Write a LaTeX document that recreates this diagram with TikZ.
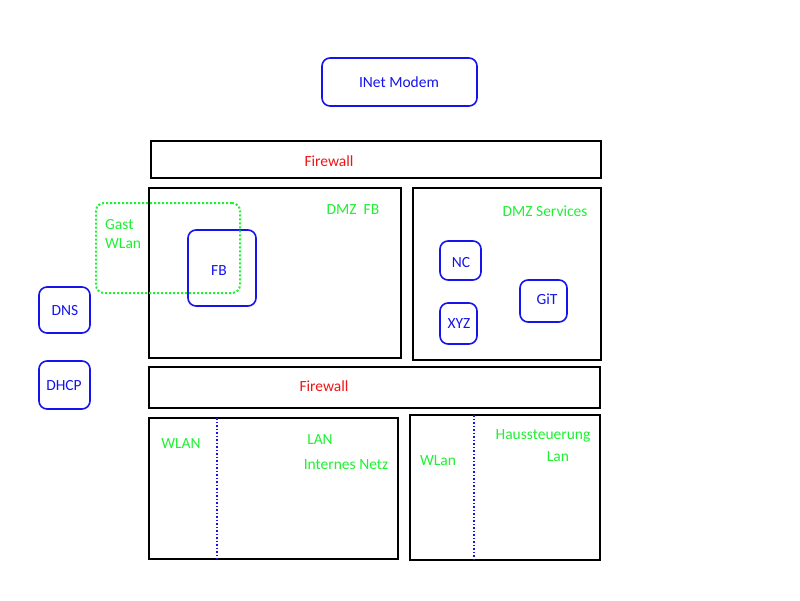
\documentclass[tikz,border=0pt]{standalone}
\usepackage{fontspec}
\setmainfont{Carlito}
\usepackage{xcolor}
\usetikzlibrary{positioning}
\definecolor{netblue}{RGB}{20,20,235}
\definecolor{netgreen}{RGB}{30,240,50}
\definecolor{netred}{RGB}{240,20,20}

\begin{document}
\begin{tikzpicture}[x=1pt, y=-1pt]
\tikzset{
  zone/.style={rectangle,draw=black,line width=1.6pt,inner sep=0pt,outer sep=0pt,anchor=north west},
  srvbox/.style={rectangle,rounded corners=8pt,draw=netblue,line width=1.6pt,inner sep=0pt,outer sep=0pt,anchor=north west},
  lab/.style={font=\fontsize{15.5}{18}\selectfont,inner sep=0pt,align=left},
  gr/.style={lab,text=netgreen},
  bl/.style={lab,text=netblue},
  rd/.style={lab,text=netred},
  wifi/.style={draw=netblue,line width=1.5pt,dotted}
}
\useasboundingbox (0,0) rectangle (800,600);
% ---- uplink
\node[srvbox,minimum width=155pt,minimum height=48pt] (modem) at (322,58) {};
\node[bl] (modemlab) at (399,82) {INet Modem};
\node[zone,minimum width=450pt,minimum height=37pt] (fwtop) at (151,141) {};
\node[rd] (fwtoplab) at (329,161) {Firewall};
% ---- dmz
\node[zone,minimum width=252pt,minimum height=170pt] (dmzfb) at (149,188) {};
\node[gr] (dmzfblab) at (353,210) {DMZ\ \ FB};
\node[srvbox,minimum width=68pt,minimum height=76pt] (fb) at (188,230) {};
\node[bl] (fblab) at (219,271) {FB};
\node[rectangle,rounded corners=8pt,draw=netgreen,line width=2pt,dotted,minimum width=144pt,minimum height=90pt,anchor=north west] (gast) at (95,202) {};
\node[gr,anchor=west] (gastlab) at (105,234) {Gast\\[1pt]WLan};
\node[zone,minimum width=188pt,minimum height=172pt] (dmzsrv) at (413,188) {};
\node[gr] (dmzsrvlab) at (545,211) {DMZ Services};
\node[srvbox,minimum width=41pt,minimum height=39pt] (nc) at (440,241) {};
\node[bl] (nclab) at (461,263) {NC};
\node[srvbox,minimum width=37pt,minimum height=41pt] (xyz) at (440,303) {};
\node[bl] (xyzlab) at (459,324) {XYZ};
\node[srvbox,minimum width=47pt,minimum height=42pt] (git) at (520,280) {};
\node[bl] (gitlab) at (547,299) {GiT};
% ---- infrastructure
\node[srvbox,minimum width=51pt,minimum height=46pt] (dns) at (39,287) {};
\node[bl] (dnslab) at (65,311) {DNS};
\node[srvbox,minimum width=51pt,minimum height=48pt] (dhcp) at (39,361) {};
\node[bl] (dhcplab) at (64,386) {DHCP};
\node[zone,minimum width=451pt,minimum height=41pt] (fwbot) at (149,367) {};
\node[rd] (fwbotlab) at (324,386) {Firewall};
% ---- internal networks
\node[zone,minimum width=249pt,minimum height=141pt] (lan) at (149,418) {};
\coordinate (lansplit) at (217,418);
\draw[wifi] (lansplit) -- (lansplit |- lan.south);
\node[gr] (wlanlab) at (181,444) {WLAN};
\node[gr] (lanlab) at (320,440) {LAN};
\node[gr] (intlab) at (346,465) {Internes Netz};
\node[zone,minimum width=190pt,minimum height=145pt] (haus) at (410,415) {};
\coordinate (haussplit) at (474,415);
\draw[wifi] (haussplit) -- (haussplit |- haus.south);
\node[gr] (hwlanlab) at (438,461) {WLan};
\node[gr] (hauslab) at (543,436) {Haussteuerung};
\node[gr] (hlanlab) at (558,457) {Lan};
\end{tikzpicture}
\end{document}
